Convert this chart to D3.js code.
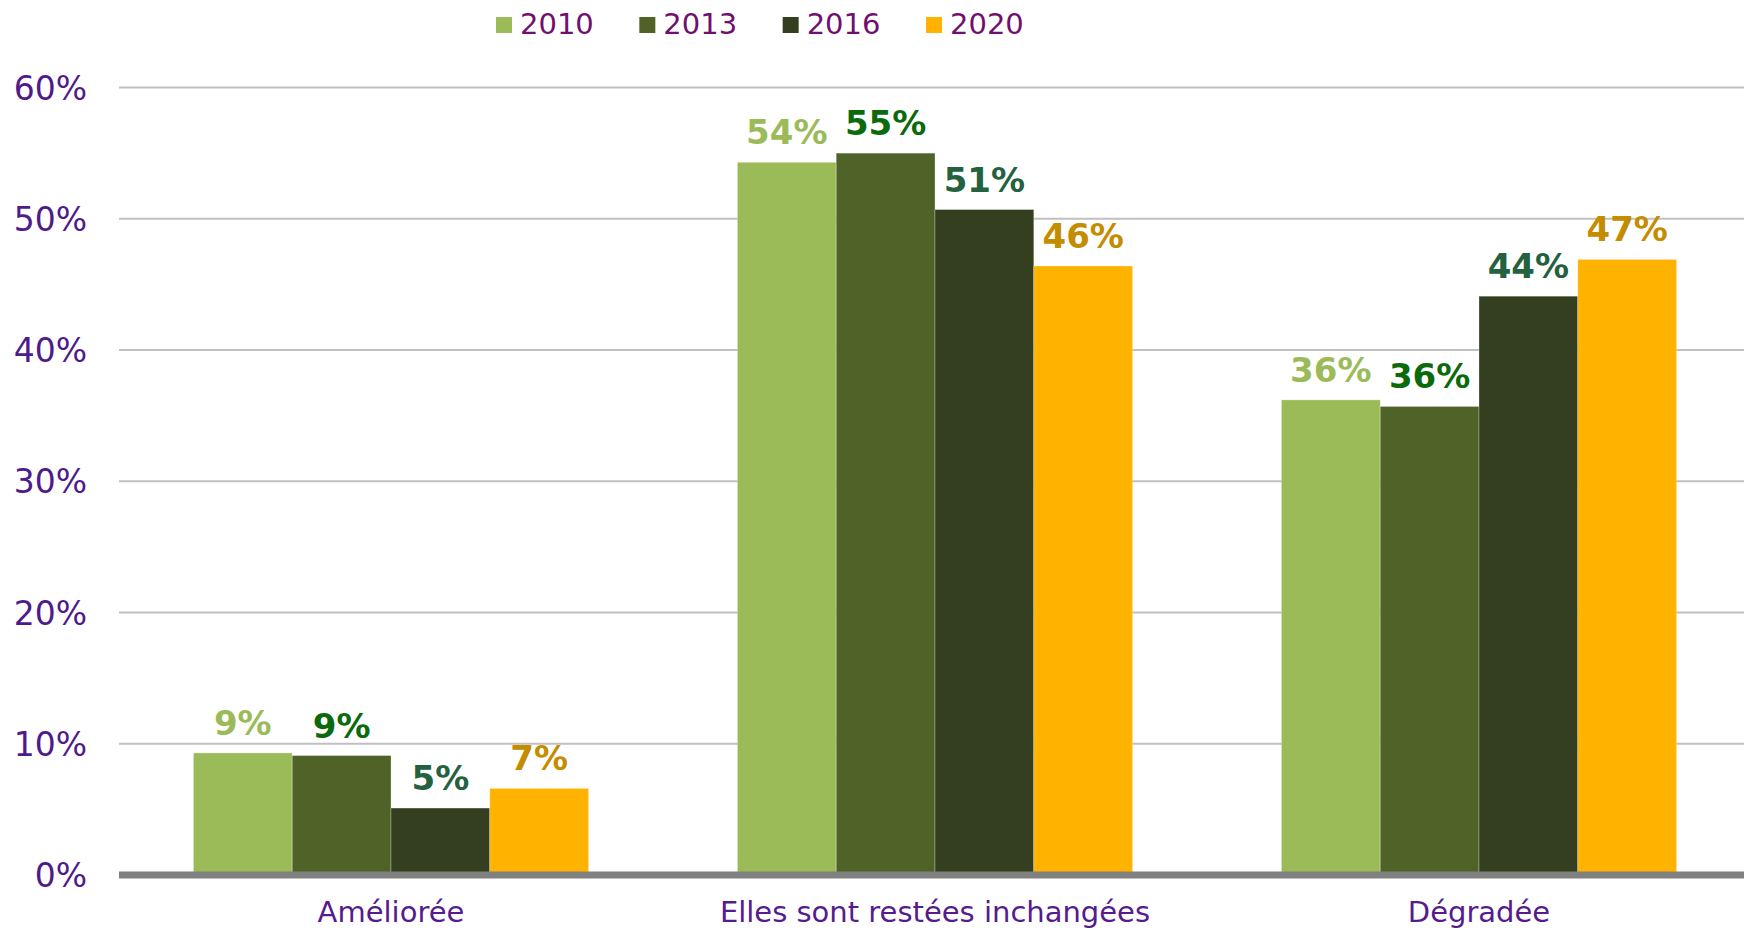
<!DOCTYPE html>
<html>
<head>
<meta charset="utf-8">
<script src="https://cdn.jsdelivr.net/npm/d3@7"></script>
<style>
  html, body { margin: 0; padding: 0; background: #fff; }
  svg { display: block; }
</style>
</head>
<body>
<svg id="chart" width="1744" height="930"></svg>
<script>
const categories = ["Améliorée", "Elles sont restées inchangées", "Dégradée"];
const years = ["2010", "2013", "2016", "2020"];
const values2010 = [9.3, 54.3, 36.2];
const values2013 = [9.1, 55.0, 35.7];
const values2016 = [5.1, 50.7, 44.1];
const values2020 = [6.6, 46.4, 46.9];
const valueLabels2010 = ["9%", "54%", "36%"];
const valueLabels2013 = ["9%", "55%", "36%"];
const valueLabels2016 = ["5%", "51%", "44%"];
const valueLabels2020 = ["7%", "46%", "47%"];
const yTicks = [0, 10, 20, 30, 40, 50, 60];

const seriesValues = [values2010, values2013, values2016, values2020];
const seriesLabels = [valueLabels2010, valueLabels2013, valueLabels2016, valueLabels2020];
const barColors = ["#9BBB59", "#4F6228", "#333F1E", "#FFB300"];
const labelColors = ["#9BBB59", "#0B6A0B", "#23613F", "#C48C00"];

const svg = d3.select("#chart");
const left = 119, right = 1751;
const y = d3.scaleLinear().domain([0, 60]).range([875, 87.5]);
const x0 = d3.scaleBand().domain(categories).range([left, right]).padding(0);
const x1 = d3.scaleBand().domain(years).range([0, x0.bandwidth()]).paddingInner(0).paddingOuter(0.753);

// gridlines
svg.append("g").selectAll("line").data(yTicks.filter(t => t > 0)).join("line")
  .attr("x1", left).attr("x2", 1744)
  .attr("y1", d => y(d)).attr("y2", d => y(d))
  .attr("stroke", "#C0C0C0").attr("stroke-width", 2);

// y tick labels
svg.append("g").selectAll("text").data(yTicks).join("text")
  .attr("x", 87).attr("y", d => y(d) + 12)
  .attr("text-anchor", "end")
  .attr("font-family", "DejaVu Sans, Verdana, sans-serif")
  .attr("font-size", 33)
  .attr("fill", "#4F1A8A")
  .text(d => d + "%");

// bars
const rows = [];
categories.forEach((c, ci) => {
  years.forEach((yr, si) => {
    rows.push({ c, yr, si, v: seriesValues[si][ci], label: seriesLabels[si][ci] });
  });
});

svg.append("g").selectAll("rect").data(rows).join("rect")
  .attr("x", d => x0(d.c) + x1(d.yr))
  .attr("width", x1.bandwidth())
  .attr("y", d => y(d.v))
  .attr("height", d => y(0) - y(d.v))
  .attr("fill", d => barColors[d.si])
  .attr("stroke", "rgba(255,255,255,0.35)")
  .attr("stroke-width", 0.8);

// value labels
svg.append("g").selectAll("text").data(rows).join("text")
  .attr("x", d => x0(d.c) + x1(d.yr) + x1.bandwidth() / 2)
  .attr("y", d => y(d.v) - 18)
  .attr("text-anchor", "middle")
  .attr("font-family", "DejaVu Sans, Verdana, sans-serif")
  .attr("font-weight", "bold")
  .attr("font-size", 34)
  .attr("fill", d => labelColors[d.si])
  .text(d => d.label);

// x axis line
svg.append("line")
  .attr("x1", left).attr("x2", 1744)
  .attr("y1", y(0)).attr("y2", y(0))
  .attr("stroke", "#808080").attr("stroke-width", 7);

// category labels
svg.append("g").selectAll("text").data(categories).join("text")
  .attr("x", d => x0(d) + x0.bandwidth() / 2)
  .attr("y", 922)
  .attr("text-anchor", "middle")
  .attr("font-family", "DejaVu Sans, Verdana, sans-serif")
  .attr("font-size", 29)
  .attr("fill", "#561B8D")
  .text(d => d);

// legend
const legendX = d3.scalePoint().domain(years).range([496, 926]);
const lg = svg.append("g").selectAll("g").data(years).join("g")
  .attr("transform", d => `translate(${legendX(d)},0)`);
lg.append("rect")
  .attr("x", 0).attr("y", 17).attr("width", 16).attr("height", 16)
  .attr("fill", (d, i) => barColors[i]);
lg.append("text")
  .attr("x", 24).attr("y", 34)
  .attr("font-family", "DejaVu Sans, Verdana, sans-serif")
  .attr("font-size", 29)
  .attr("fill", "#700F6E")
  .text(d => d);
</script>
</body>
</html>
